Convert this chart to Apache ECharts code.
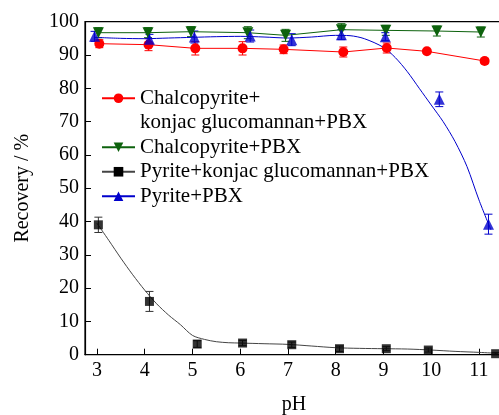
<!DOCTYPE html>
<html lang="en">
<head>
  <meta charset="UTF-8">
  <title>Recovery vs pH</title>
  <script src="https://cdn.jsdelivr.net/npm/echarts@6/dist/echarts.min.js"></script>
  <style>
    html, body { margin: 0; padding: 0; background: #fff; }
    #chart { width: 499px; height: 415px; }
  </style>
</head>
<body>
  <div id="chart"></div>
  <script>
    // series names
    const names = [
      'Chalcopyrite+\nkonjac glucomannan+PBX',
      'Chalcopyrite+PBX',
      'Pyrite+konjac glucomannan+PBX',
      'Pyrite+PBX'
    ];
    const phTicks = [3, 4, 5, 6, 7, 8, 9, 10, 11];

    // Chalcopyrite + konjac glucomannan + PBX (red circles)
    const chalKgPh  = [3.05, 4.08, 5.06, 6.05, 6.91, 8.16, 9.07, 9.91, 11.12];
    const chalKgVal = [93.4, 93.1, 92.0, 92.0, 91.7, 90.9, 92.1, 91.1, 88.2];
    const chalKgErr = [1.2, 1.8, 2.0, 2.0, 1.3, 1.5, 1.5, 0.6, 0.8];

    // Chalcopyrite + PBX (green down triangles)
    const chalPh  = [3.03, 4.07, 4.97, 6.16, 6.95, 8.12, 9.05, 10.12, 11.04];
    const chalVal = [96.7, 96.7, 97.0, 96.7, 95.9, 97.6, 97.4, 97.2, 96.9];
    const chalErr = [1.5, 1.5, 1.5, 1.8, 1.8, 1.8, 1.5, 1.5, 1.5];

    // Pyrite + konjac glucomannan + PBX (black squares) and fitted curve
    const pyKgPh  = [3.03, 4.10, 5.10, 6.05, 7.08, 8.08, 9.06, 9.94, 11.35];
    const pyKgVal = [39.0, 16.0, 3.2, 3.5, 3.0, 1.8, 1.8, 1.4, 0.3];
    const pyKgErr = [2.3, 3.0, 1.0, 0.8, 0.8, 0.8, 0.6, 0.6, 0.3];
    const pyKgFitPh  = [3.0, 3.25, 3.5, 3.75, 4.0, 4.25, 4.5, 4.75, 5.0, 5.25, 5.5, 5.75, 6.0, 6.5, 7.0, 7.5, 8.0, 8.5, 9.0, 9.5, 10.0, 10.5, 11.0, 11.4];
    const pyKgFitVal = [39.5, 34.3, 29.0, 24.0, 19.4, 15.3, 11.9, 9.0, 5.8, 4.6, 3.9, 3.6, 3.5, 3.3, 3.1, 2.6, 2.1, 1.9, 1.8, 1.7, 1.4, 1.0, 0.7, 0.4];

    // Pyrite + PBX (blue triangles) and fitted curve
    const pyPh  = [2.95, 4.10, 5.04, 6.21, 7.08, 8.12, 9.04, 10.17, 11.20];
    const pyVal = [95.6, 94.7, 95.4, 95.7, 94.6, 96.1, 95.5, 76.7, 39.2];
    const pyErr = [1.5, 1.5, 1.8, 1.8, 1.8, 1.5, 1.2, 2.2, 3.0];
    const pyFitPh  = [2.95, 3.5, 4.0, 4.5, 5.0, 5.5, 6.0, 6.5, 7.0, 7.5, 8.0, 8.3, 8.6, 9.0, 9.25, 9.5, 9.75, 10.0, 10.25, 10.5, 10.75, 11.0, 11.25];
    const pyFitVal = [95.3, 95.0, 94.9, 95.1, 95.3, 95.5, 95.6, 95.4, 95.1, 95.4, 95.9, 95.8, 94.9, 92.3, 89.2, 85.0, 80.0, 75.0, 70.0, 64.0, 56.5, 46.5, 37.5];

    const RED = '#ff0000', GREEN = '#0d620d', BLACK = '#000000', BLUE = '#0000cc';
    const FONT = "'Liberation Serif', 'Times New Roman', serif";

    const pairs = (xs, ys) => xs.map((x, i) => [x, ys[i]]);
    const errData = (xs, ys, es) => xs.map((x, i) => [x, ys[i] - es[i], ys[i] + es[i]]);

    function errorBars(data, color) {
      return {
        type: 'custom',
        data: data,
        z: 1,
        silent: true,
        renderItem: function (params, api) {
          const x = api.value(0);
          const lo = api.coord([x, api.value(1)]);
          const hi = api.coord([x, api.value(2)]);
          const w = 4;
          const style = { stroke: color, lineWidth: 1 };
          return {
            type: 'group',
            children: [
              { type: 'line', shape: { x1: lo[0], y1: lo[1], x2: hi[0], y2: hi[1] }, style: style },
              { type: 'line', shape: { x1: lo[0] - w, y1: lo[1], x2: lo[0] + w, y2: lo[1] }, style: style },
              { type: 'line', shape: { x1: hi[0] - w, y1: hi[1], x2: hi[0] + w, y2: hi[1] }, style: style }
            ]
          };
        }
      };
    }

    const chart = echarts.init(document.getElementById('chart'));
    chart.setOption({
      animation: false,
      backgroundColor: '#fff',
      textStyle: { fontFamily: FONT },
      grid: {
        left: 85, right: -3.8, top: 21.7, bottom: 60.3,
        outerBoundsMode: 'none',
        show: true, borderColor: '#000', borderWidth: 1.2
      },
      legend: {
        orient: 'vertical',
        left: 101,
        top: 61.5,
        padding: 0,
        itemWidth: 33,
        itemHeight: 12,
        itemGap: 0,
        selectedMode: false,
        // blank first line keeps the icon level with "Chalcopyrite+"
        formatter: n => (n === names[0] ? '\n' + n : n),
        textStyle: { fontFamily: FONT, fontSize: 21, color: '#000', lineHeight: 24.5 },
        data: names
      },
      xAxis: {
        type: 'value',
        min: 2.75,
        max: 11.5,
        name: 'pH',
        nameLocation: 'middle',
        nameGap: 40,
        nameTextStyle: { fontFamily: FONT, fontSize: 20, color: '#000' },
        axisLine: { lineStyle: { color: '#000', width: 1.2 } },
        axisTick: { inside: true, length: 6, customValues: phTicks, lineStyle: { color: '#000' } },
        axisLabel: { customValues: phTicks, margin: 6, fontFamily: FONT, fontSize: 20, color: '#000' },
        splitLine: { show: false }
      },
      yAxis: {
        type: 'value',
        min: 0,
        max: 100,
        interval: 10,
        name: 'Recovery / %',
        nameLocation: 'middle',
        nameGap: 52,
        nameTextStyle: { fontFamily: FONT, fontSize: 20, color: '#000' },
        axisLine: { show: true, lineStyle: { color: '#000', width: 1.2 } },
        axisTick: { show: true, inside: true, length: 6, lineStyle: { color: '#000' } },
        axisLabel: { margin: 6, fontFamily: FONT, fontSize: 20, color: '#000' },
        splitLine: { show: false }
      },
      series: [
        errorBars(errData(chalKgPh, chalKgVal, chalKgErr), RED),
        errorBars(errData(chalPh, chalVal, chalErr), GREEN),
        errorBars(errData(pyKgPh, pyKgVal, pyKgErr), '#333'),
        errorBars(errData(pyPh, pyVal, pyErr), BLUE),
        {
          name: names[0], type: 'line', data: pairs(chalKgPh, chalKgVal), z: 3,
          symbol: 'circle', symbolSize: 10,
          itemStyle: { color: RED }, lineStyle: { color: RED, width: 1 }
        },
        {
          name: names[1], type: 'line', data: pairs(chalPh, chalVal), z: 3,
          symbol: 'triangle', symbolRotate: 180, symbolSize: 11,
          itemStyle: { color: GREEN }, lineStyle: { color: GREEN, width: 1 }
        },
        {
          name: names[2], type: 'line', data: pairs(pyKgFitPh, pyKgFitVal), z: 2,
          smooth: 0.3, showSymbol: false, symbol: 'rect',
          itemStyle: { color: BLACK }, lineStyle: { color: '#444', width: 1 }
        },
        {
          name: 'pyKgPoints', type: 'scatter', data: pairs(pyKgPh, pyKgVal), z: 3,
          symbol: 'rect', symbolSize: 9, itemStyle: { color: BLACK }
        },
        {
          name: names[3], type: 'line', data: pairs(pyFitPh, pyFitVal), z: 2,
          smooth: 0.3, showSymbol: false, symbol: 'triangle',
          itemStyle: { color: BLUE }, lineStyle: { color: BLUE, width: 1 }
        },
        {
          name: 'pyPoints', type: 'scatter', data: pairs(pyPh, pyVal), z: 3,
          symbol: 'triangle', symbolSize: 11, itemStyle: { color: BLUE }
        }
      ]
    });
  </script>
</body>
</html>
